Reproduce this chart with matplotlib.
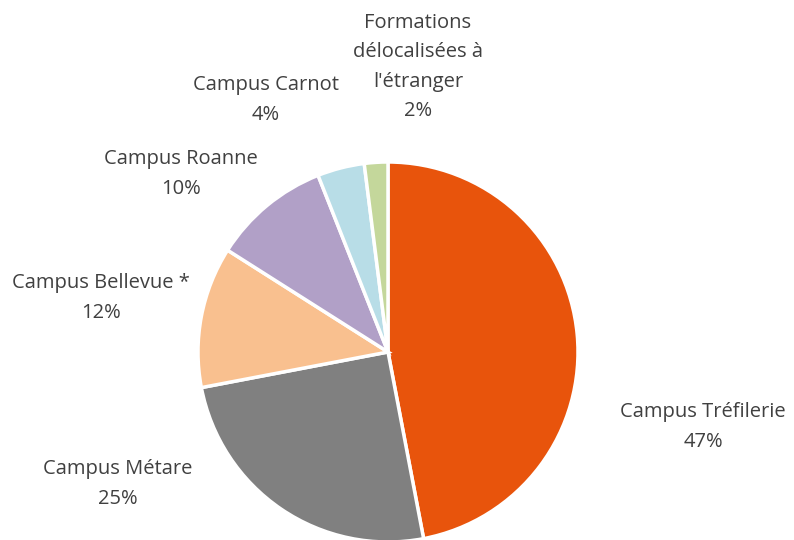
import matplotlib.pyplot as plt

labels = ["Campus Tréfilerie", "Campus Métare", "Campus Bellevue *",
          "Campus Roanne", "Campus Carnot", "Formations\ndélocalisées à\nl'étranger"]
values = [47, 25, 12, 10, 4, 2]
colors = ["#E8540C", "#808080", "#F9C08F", "#B1A0C7", "#B8DDE7", "#C4D79B"]

# label centres in pixels of the 794x540 picture
label_px = [(703, 427), (118, 484), (101, 298), (181, 174), (266, 100), (418, 67)]

R = 190.0
cx, cy = 388.0, 352.0

fig = plt.figure(figsize=(7.94, 5.40), dpi=100)
ax = fig.add_axes([0, 0, 1, 1])
ax.pie(values, colors=colors, startangle=90, counterclock=False, radius=1,
       wedgeprops=dict(edgecolor="white", linewidth=2.5))
ax.set_xlim(-cx / R, (794 - cx) / R)
ax.set_ylim(-(540 - cy) / R, cy / R)
ax.set_aspect("equal")
ax.axis("off")

for lab, v, (px, py) in zip(labels, values, label_px):
    ax.text((px - cx) / R, (cy - py) / R, "%s\n%d%%" % (lab, v),
            ha="center", va="center", fontsize=14.5, color="#404040",
            family="Open Sans", linespacing=1.62)

fig.savefig("out.png", dpi=100)
